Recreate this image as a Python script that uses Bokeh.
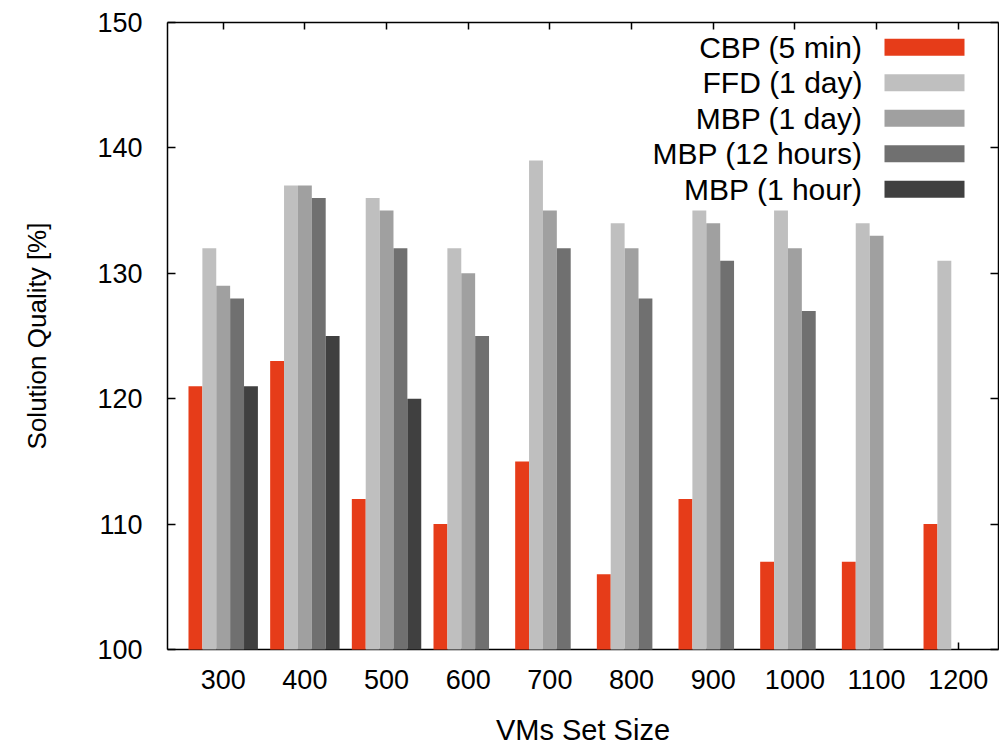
from bokeh.plotting import figure
from bokeh.models import (Range1d, LinearAxis, FixedTicker, ColumnDataSource,
                          Label, BoxAnnotation)
from bokeh.transform import dodge
from bokeh.embed import file_html
from bokeh.resources import INLINE

# ---------------- data ----------------
set_sizes = ["300", "400", "500", "600", "700", "800", "900", "1000", "1100", "1200"]
series_names = ["CBP (5 min)", "FFD (1 day)", "MBP (1 day)", "MBP (12 hours)", "MBP (1 hour)"]
cbp_5min = [121, 123, 112, 110, 115, 106, 112, 107, 107, 110]
ffd_1day = [132, 137, 136, 132, 139, 134, 135, 135, 134, 131]
mbp_1day = [129, 137, 135, 130, 135, 132, 134, 132, 133, None]
mbp_12hours = [128, 136, 132, 125, 132, 128, 131, 127, None, None]
mbp_1hour = [121, 125, 120, None, None, None, None, None, None, None]
series_values = [cbp_5min, ffd_1day, mbp_1day, mbp_12hours, mbp_1hour]
series_colors = ["#e63c19", "#bfbfbf", "#a0a0a0", "#707070", "#404040"]
y_ticks = [100, 110, 120, 130, 140, 150]

# ---------------- style ----------------
FONT = "Liberation Sans"
FS = "27px"
BAR_W = 0.17

p = figure(frame_width=831, frame_height=627,
           x_range=Range1d(-0.682, 9.493), y_range=Range1d(100, 150),
           output_backend="svg", toolbar_location=None,
           min_border_left=167, min_border_top=22, min_border_right=1,
           min_border_bottom=97, x_axis_location=None, y_axis_location=None)
p.xgrid.visible = False
p.ygrid.visible = False
p.outline_line_color = None
p.background_fill_color = "white"

positions = list(range(len(set_sizes)))
for k, (name, vals, col) in enumerate(zip(series_names, series_values, series_colors)):
    xs = [i for i, v in zip(positions, vals) if v is not None]
    ys = [v for v in vals if v is not None]
    src = ColumnDataSource(dict(x=xs, top=ys))
    r = p.vbar(x=dodge("x", (k - 2) * BAR_W), top="top", bottom=100, width=BAR_W,
               source=src, fill_color=col, line_color=None)
    r.level = "overlay"

def style_axis(ax, ticks, labels=True):
    ax.axis_line_color = "black"
    ax.axis_line_width = 1.5
    ax.major_tick_line_color = "black"
    ax.major_tick_line_width = 1.5
    ax.major_tick_in = 8
    ax.major_tick_out = 0
    ax.minor_tick_line_color = None
    if labels:
        ax.major_label_text_font = FONT
        ax.major_label_text_font_size = FS
        ax.major_label_text_color = "black"
        ax.axis_label_text_font = FONT
        ax.axis_label_text_font_size = FS
        ax.axis_label_text_font_style = "normal"
        ax.axis_label_text_color = "black"
    else:
        ax.major_label_overrides = {t: "" for t in ticks}
        ax.major_label_standoff = 0

xticker = FixedTicker(ticks=positions)
yticker = FixedTicker(ticks=y_ticks)

bottom = LinearAxis(ticker=xticker, axis_label="VMs Set Size")
style_axis(bottom, positions)
bottom.major_label_overrides = {i: s for i, s in zip(positions, set_sizes)}
bottom.major_tick_in = 7
bottom.major_label_standoff = 20
bottom.axis_label_standoff = 22
bottom.axis_label_text_font_size = "29px"
p.add_layout(bottom, "below")

left = LinearAxis(ticker=yticker, axis_label="Solution Quality [%]")
style_axis(left, y_ticks)
left.major_label_standoff = 25
left.axis_label_standoff = 42
left.axis_label_text_font_size = "26px"
p.add_layout(left, "left")

top = LinearAxis(ticker=xticker)
style_axis(top, positions, labels=False)
top.major_tick_in = 7
p.add_layout(top, "above")

right = LinearAxis(ticker=yticker)
style_axis(right, y_ticks, labels=False)
p.add_layout(right, "right")

# ---------------- legend (gnuplot style: text then swatch) ----------------
TEXT_RIGHT = 695
SW_LEFT, SW_RIGHT = 717, 797
ROW0 = 602.3
ROW_STEP = 35.5
SW_H = 17
for k, (name, col) in enumerate(zip(series_names, series_colors)):
    cy = ROW0 - k * ROW_STEP
    p.add_layout(Label(x=TEXT_RIGHT, y=cy, x_units="screen", y_units="screen",
                       text=name, text_align="right", text_baseline="middle",
                       text_font=FONT, text_font_size="30px", text_color="black"))
    p.add_layout(BoxAnnotation(left=SW_LEFT, right=SW_RIGHT,
                               bottom=cy - SW_H / 2, top=cy + SW_H / 2,
                               left_units="screen", right_units="screen",
                               bottom_units="screen", top_units="screen",
                               fill_color=col, fill_alpha=1.0, line_color=None))

open("out.html", "w").write(file_html(p, INLINE))
